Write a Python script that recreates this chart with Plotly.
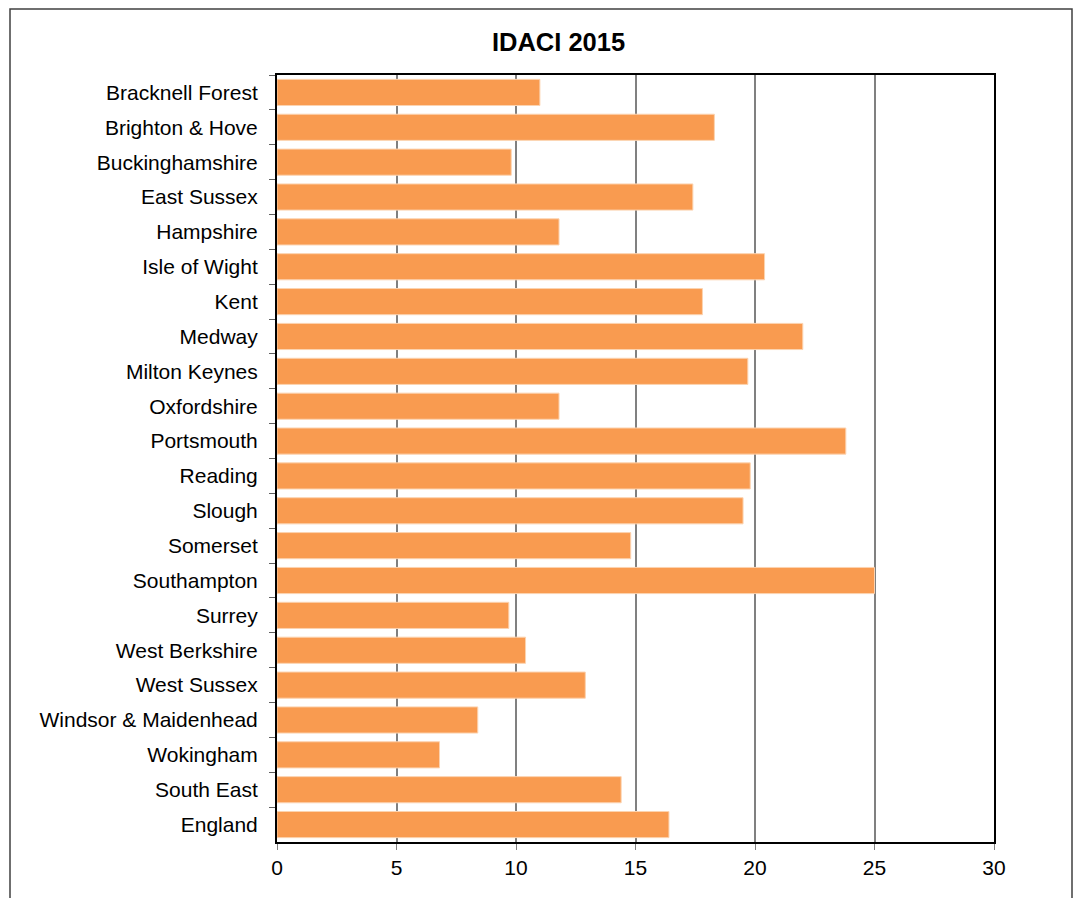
import plotly.graph_objects as go

categories = ["Bracknell Forest", "Brighton & Hove", "Buckinghamshire", "East Sussex",
              "Hampshire", "Isle of Wight", "Kent", "Medway", "Milton Keynes",
              "Oxfordshire", "Portsmouth", "Reading", "Slough", "Somerset",
              "Southampton", "Surrey", "West Berkshire", "West Sussex",
              "Windsor & Maidenhead", "Wokingham", "South East", "England"]
values = [11.0, 18.3, 9.8, 17.4, 11.8, 20.4, 17.8, 22.0, 19.7, 11.8, 23.8, 19.8,
          19.5, 14.8, 25.0, 9.7, 10.4, 12.9, 8.4, 6.8, 14.4, 16.4]
x_ticks = [0, 5, 10, 15, 20, 25, 30]
title_text = "IDACI 2015"

# page has an 8px body margin; figure occupies 8..1081 x 8..898
OFF = 8
W, H = 1081 - OFF, 898 - OFF
L, R, T, B = 277, 994, 75, 842   # absolute page coords of plot area
pw, ph = R - L, B - T

fig = go.Figure(go.Bar(
    x=values, y=categories, orientation="h",
    marker=dict(color="#F99B50", line=dict(color="#FCD3B0", width=1)),
    hoverinfo="x+y",
))

font = "Liberation Sans, Arial, sans-serif"

fig.update_layout(
    width=W, height=H,
    margin=dict(l=L - OFF, r=1081 - R, t=T - OFF, b=898 - B, pad=0),
    paper_bgcolor="white", plot_bgcolor="white",
    bargap=0.25,
    showlegend=False,
    font=dict(family=font, size=21, color="black"),
    title=dict(text="<b>" + title_text + "</b>", x=(558.5 - OFF) / W, xanchor="center",
               y=1 - (42 - OFF) / H, yanchor="middle",
               font=dict(family=font, size=25.5, color="black")),
    xaxis=dict(range=[0, 30], tickvals=x_ticks, ticktext=[str(v) for v in x_ticks],
               showgrid=True, gridcolor="#808080", gridwidth=2,
               showline=True, linecolor="black", linewidth=2, mirror=True,
               ticks="outside", ticklen=6, tickcolor="#808080", tickwidth=1,
               zeroline=False, fixedrange=True,
               tickfont=dict(family=font, size=21, color="black")),
    yaxis=dict(autorange="reversed", type="category",
               showline=True, linecolor="black", linewidth=2, mirror=True,
               ticks="outside", tickson="boundaries", ticklen=6,
               tickcolor="#606060", tickwidth=1, ticklabelstandoff=13,
               showgrid=False, fixedrange=True,
               tickfont=dict(family=font, size=21, color="black")),
    shapes=[dict(type="rect", xref="paper", yref="paper",
                 x0=(10 - L) / pw, x1=(1072 - L) / pw,
                 y0=(B - 910) / ph, y1=(B - 9) / ph,
                 line=dict(color="#404040", width=1.5), fillcolor="rgba(0,0,0,0)",
                 layer="below")],
)

fig.write_html("out.html")
